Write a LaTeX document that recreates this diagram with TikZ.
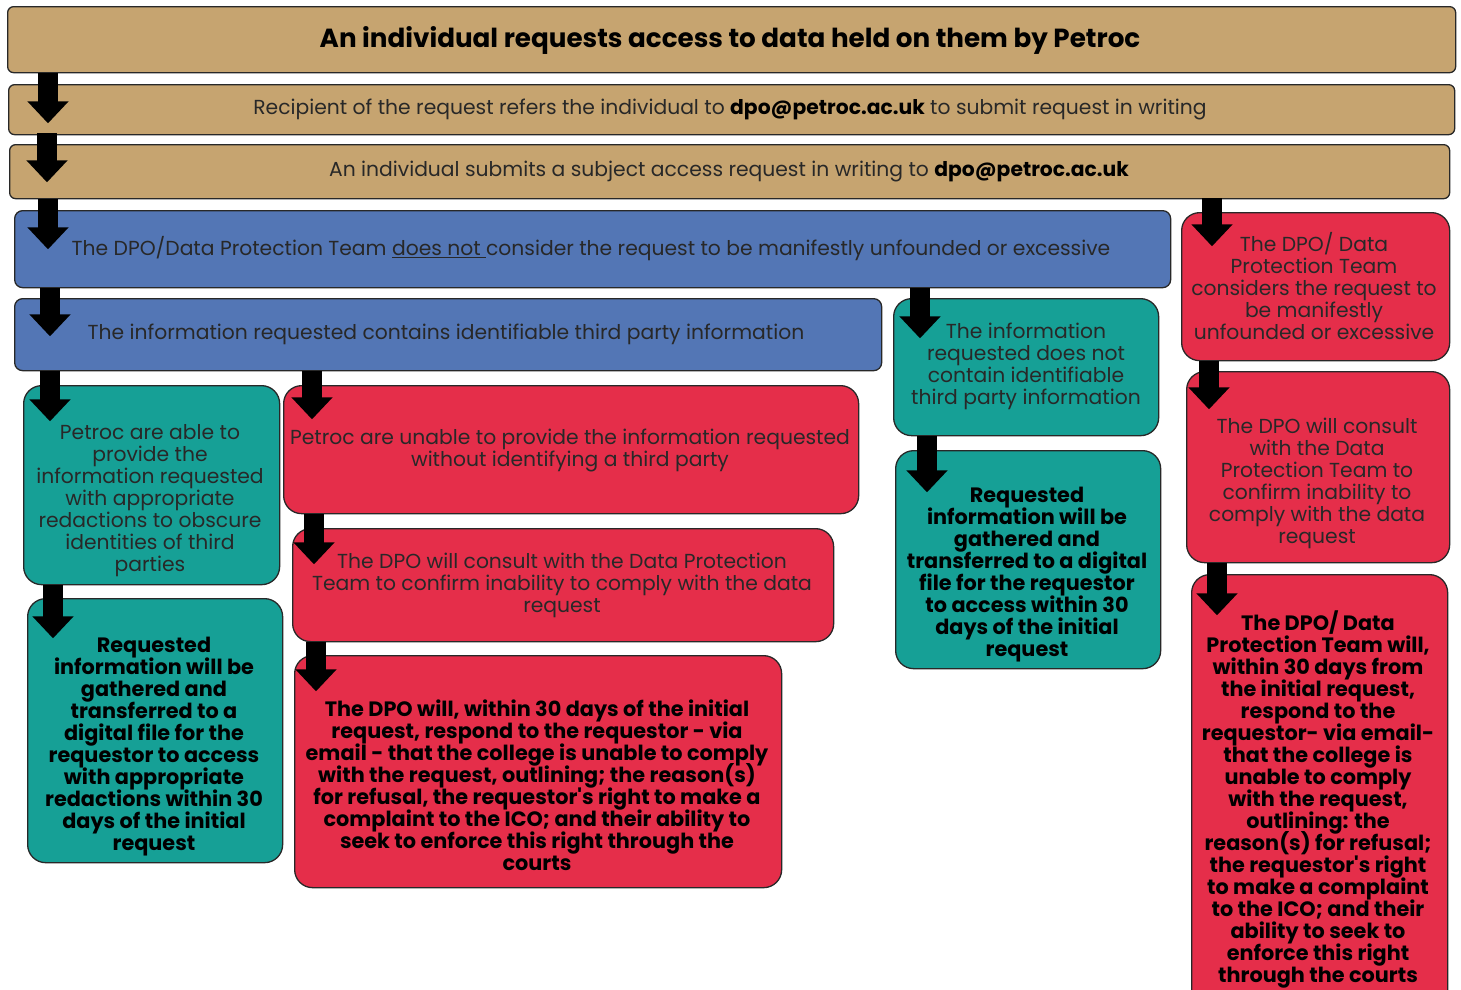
\documentclass[tikz,border=0pt]{standalone}
\usepackage{fontspec}
\setmainfont{Poppins}[Ligatures=TeXOff]
\usetikzlibrary{arrows.meta}
\definecolor{tanc}{RGB}{198,164,112}
\definecolor{bluec}{RGB}{83,118,181}
\definecolor{redc}{RGB}{229,46,74}
\definecolor{tealc}{RGB}{22,160,150}
\definecolor{linec}{RGB}{40,40,40}
\definecolor{txtc}{RGB}{40,40,40}
\newcommand\tightlines{\lineskiplimit=-100pt\lineskip=0pt}
\begin{document}
\begin{tikzpicture}[x=1pt,y=-1pt,
  boxbase/.style={draw=linec, line width=1.3pt, anchor=north west, inner sep=0pt},
  tanbox/.style={boxbase, fill=tanc, rounded corners=6pt},
  bluebox/.style={boxbase, fill=bluec, rounded corners=8pt},
  redbox/.style={boxbase, fill=redc, rounded corners=18pt},
  tealbox/.style={boxbase, fill=tealc, rounded corners=18pt},
  txt/.style={align=center, inner sep=0pt, text=txtc, font=\fontsize{20.3}{22}\selectfont\tightlines, yshift=-2pt},
  btxt/.style={align=center, inner sep=0pt, text=black, font=\fontsize{20.8}{22}\selectfont\bfseries\tightlines, yshift=-2pt},
  blk/.style={line width=20pt, black, -{Triangle[width=40pt,length=22pt]}}
]
\useasboundingbox (0,0) rectangle (1461,989);
\clip (0,0) rectangle (1461,989);

% boxes
\node[tanbox, minimum width=1448pt, minimum height=66pt] (t1) at (7,6) {};
\node[tanbox, minimum width=1446pt, minimum height=50pt] (t2) at (8,84) {};
\node[tanbox, minimum width=1440pt, minimum height=54pt] (t3) at (9,144) {};
\node[bluebox, minimum width=1156pt, minimum height=77pt] (b1) at (14,210) {};
\node[bluebox, minimum width=867pt, minimum height=72pt] (b2) at (14,298) {};
\node[redbox, minimum width=268pt, minimum height=148pt] (rA) at (1181,212) {};
\node[tealbox, minimum width=265pt, minimum height=137pt] (gA) at (893,298) {};
\node[tealbox, minimum width=256pt, minimum height=199pt] (gB) at (23,385) {};
\node[redbox, minimum width=575pt, minimum height=128pt] (rB) at (283,385) {};
\node[redbox, minimum width=263pt, minimum height=191pt] (rC) at (1186,371) {};
\node[tealbox, minimum width=265pt, minimum height=218pt] (gC) at (895,450) {};
\node[tealbox, minimum width=255pt, minimum height=264pt] (gD) at (27,598) {};
\node[redbox, minimum width=541pt, minimum height=113pt] (rD) at (292,528) {};
\node[redbox, minimum width=487pt, minimum height=232pt] (rE) at (294,655) {};
\node[redbox, minimum width=256pt, minimum height=440pt] (rF) at (1191,574) {};

% texts
\node[btxt, font=\fontsize{26.2}{28}\selectfont\bfseries] (x1) at (730,38) {An individual requests access to data held on them by Petroc};
\node[txt] (x2) at (730,107) {Recipient of the request refers the individual to \textcolor{black}{\bfseries dpo@petroc.ac.uk} to submit request in writing};
\node[txt] (x3) at (729,170) {An individual submits a subject access request in writing to \textcolor{black}{\bfseries dpo@petroc.ac.uk}};
\node[txt] (x4) at (591,247) {The DPO/Data Protection Team \underline{does not\ }consider the request to be manifestly unfounded or excessive};
\node[txt] (x5) at (446,332) {The information requested contains identifiable third party information};
\node[txt] (xA) at (1314,284.5) {The DPO/ Data\\Protection Team\\considers the request to\\be manifestly\\unfounded or excessive};
\node[txt] (xgA) at (1026,364.5) {The information\\requested does not\\contain identifiable\\third party information};
\node[txt] (xgB) at (150,498.5) {Petroc are able to\\provide the\\information requested\\with appropriate\\redactions to obscure\\identities of third\\parties};
\node[txt] (xB) at (570,448) {Petroc are unable to provide the information requested\\without identifying a third party};
\node[txt] (xC) at (1317,481) {The DPO will consult\\with the Data\\Protection Team to\\confirm inability to\\comply with the data\\request};
\node[btxt] (xgC) at (1027,573) {Requested\\information will be\\gathered and\\transferred to a digital\\file for the requestor\\to access within 30\\days of the initial\\request};
\node[btxt] (xgD) at (154,744.5) {Requested\\information will be\\gathered and\\transferred to a\\digital file for the\\requestor to access\\with appropriate\\redactions within 30\\days of the initial\\request};
\node[txt] (xD) at (562,583.5) {The DPO will consult with the Data Protection\\Team to confirm inability to comply with the data\\request};
\node[btxt] (xE) at (537,783) {The DPO will, within 30 days of the initial\\request, respond to the requestor - via\\email - that the college is unable to comply\\with the request, outlining; the reason(s)\\for refusal, the requestor's right to make a\\complaint to the ICO; and their ability to\\seek to enforce this right through the\\courts};
\node[btxt] (xF) at (1318,797) {The DPO/ Data\\Protection Team will,\\within 30 days from\\the initial request,\\respond to the\\requestor- via email-\\that the college is\\unable to comply\\with the request,\\outlining: the\\reason(s) for refusal;\\the requestor's right\\to make a complaint\\to the ICO; and their\\ability to seek to\\enforce this right\\through the courts};

% arrows
\draw[blk] ([xshift=41pt]t1.south west) -- ([xshift=41pt,yshift=-50pt]t1.south west);
\draw[blk] ([xshift=39pt,yshift=2pt]t2.south west) -- ([xshift=39pt,yshift=-47pt]t2.south west);
\draw[blk] ([xshift=39pt]t3.south west) -- ([xshift=39pt,yshift=-50pt]t3.south west);
\draw[blk] ([xshift=36pt]b1.south west) -- ([xshift=36pt,yshift=-48pt]b1.south west);
\draw[blk] ([xshift=36pt]b2.south west) -- ([xshift=36pt,yshift=-50pt]b2.south west);
\draw[blk] ([xshift=298pt]b2.south west) -- ([xshift=298pt,yshift=-48pt]b2.south west);
\draw[blk] ([xshift=906pt]b1.south west) -- ([xshift=906pt,yshift=-50pt]b1.south west);
\draw[blk] ([xshift=1203pt,yshift=1pt]t3.south west) -- ([xshift=1203pt,yshift=-47pt]t3.south west);
\draw[blk] ([xshift=28pt]rA.south west) -- ([xshift=28pt,yshift=-48pt]rA.south west);
\draw[blk] ([xshift=34pt]gA.south west) -- ([xshift=34pt,yshift=-56pt]gA.south west);
\draw[blk] ([xshift=31pt]rC.south west) -- ([xshift=31pt,yshift=-52pt]rC.south west);
\draw[blk] ([xshift=30pt]gB.south west) -- ([xshift=30pt,yshift=-53pt]gB.south west);
\draw[blk] ([xshift=31pt]rB.south west) -- ([xshift=31pt,yshift=-50pt]rB.south west);
\draw[blk] ([xshift=24pt]rD.south west) -- ([xshift=24pt,yshift=-49pt]rD.south west);
\end{tikzpicture}
\end{document}
